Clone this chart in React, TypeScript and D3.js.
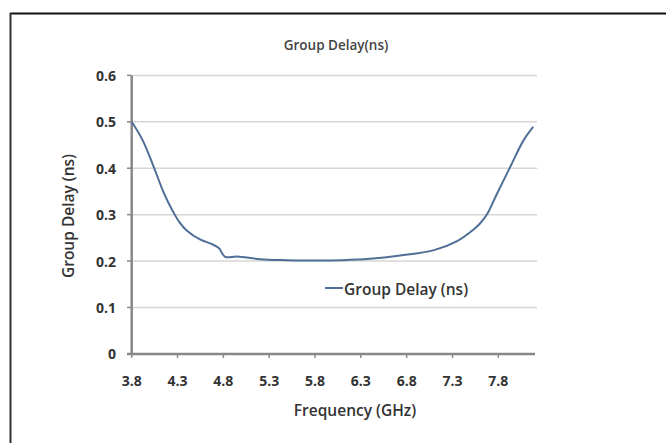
import React from 'react';
import * as d3 from 'd3';

const freq = [3.8, 3.92, 4.04, 4.15, 4.25, 4.32, 4.4, 4.55, 4.67, 4.75, 4.82, 4.95, 5.2, 5.5, 5.8, 6.1, 6.4, 6.73, 7.09, 7.35, 7.53, 7.6, 7.68, 7.78, 7.93, 8.075, 8.18];
const delay = [0.5, 0.46, 0.403, 0.347, 0.307, 0.284, 0.266, 0.246, 0.237, 0.228, 0.209, 0.21, 0.204, 0.202, 0.201, 0.202, 0.205, 0.212, 0.223, 0.243, 0.268, 0.281, 0.302, 0.343, 0.403, 0.46, 0.489];
const xTicks = [3.8, 4.3, 4.8, 5.3, 5.8, 6.3, 6.8, 7.3, 7.8];
const yTicks = [0, 0.1, 0.2, 0.3, 0.4, 0.5, 0.6];

const W = 666;
const H = 443;
const font = '"Open Sans", "Liberation Sans", sans-serif';

export default function App() {
  const x = d3.scaleLinear().domain([3.8, 8.2]).range([131.7, 535]);
  const y = d3.scaleLinear().domain([0, 0.6]).range([353.9, 75.4]);
  const pts = freq.map((f, i) => [f, delay[i]] as [number, number]);
  const line = d3.line<[number, number]>()
    .x(d => x(d[0]))
    .y(d => y(d[1]))
    .curve(d3.curveCatmullRom.alpha(0.5));

  return (
    <svg width={W} height={H} style={{ position: 'absolute', left: 0, top: 0, background: '#fff' }}>
      {/* outer frame (only top and left visible) */}
      <line x1={10} x2={666} y1={13.5} y2={13.5} stroke="#111" strokeWidth={2} />
      <line x1={10.5} x2={10.5} y1={13} y2={443} stroke="#333" strokeWidth={2} />

      <text x={336} y={45} textAnchor="middle" dominantBaseline="central"
        fontFamily={font} fontSize={13.5} fontWeight={600} fill="#444">Group Delay(ns)</text>

      {yTicks.filter(t => t > 0).map(t => (
        <line key={'g' + t} x1={x(3.8)} x2={537} y1={y(t)} y2={y(t)} stroke="#d6d6d6" strokeWidth={1.5} />
      ))}

      {yTicks.map(t => (
        <g key={'y' + t}>
          <line x1={127} x2={x(3.8)} y1={y(t)} y2={y(t)} stroke="#888" strokeWidth={1.5} />
          <text x={116} y={y(t)} textAnchor="end" dominantBaseline="central"
            fontFamily={font} fontSize={14} fontWeight={700} fill="#333">{d3.format('')(t)}</text>
        </g>
      ))}

      {xTicks.map(t => (
        <g key={'x' + t}>
          <line x1={x(t)} x2={x(t)} y1={y(0)} y2={y(0) + 4} stroke="#888" strokeWidth={1.5} />
          <text x={x(t)} y={380} textAnchor="middle" dominantBaseline="central"
            fontFamily={font} fontSize={14} fontWeight={700} fill="#333">{t.toFixed(1)}</text>
        </g>
      ))}

      <line x1={x(3.8)} x2={x(3.8)} y1={y(0.6)} y2={y(0)} stroke="#888" strokeWidth={2.5} />
      <line x1={127} x2={535} y1={y(0)} y2={y(0)} stroke="#888" strokeWidth={2.5} />

      <path d={line(pts) || ''} fill="none" stroke="#4f6f96" strokeWidth={2} />

      <line x1={325} x2={343} y1={288} y2={288} stroke="#4f6f96" strokeWidth={2} />
      <text x={344} y={289} dominantBaseline="central"
        fontFamily={font} fontSize={15.5} fontWeight={600} fill="#333">Group Delay (ns)</text>

      <text x={355} y={410} textAnchor="middle" dominantBaseline="central"
        fontFamily={font} fontSize={15.5} fontWeight={600} fill="#333">Frequency (GHz)</text>
      <text transform="translate(68,216) rotate(-90)" textAnchor="middle" dominantBaseline="central"
        fontFamily={font} fontSize={15.5} fontWeight={600} fill="#333">Group Delay (ns)</text>
    </svg>
  );
}
